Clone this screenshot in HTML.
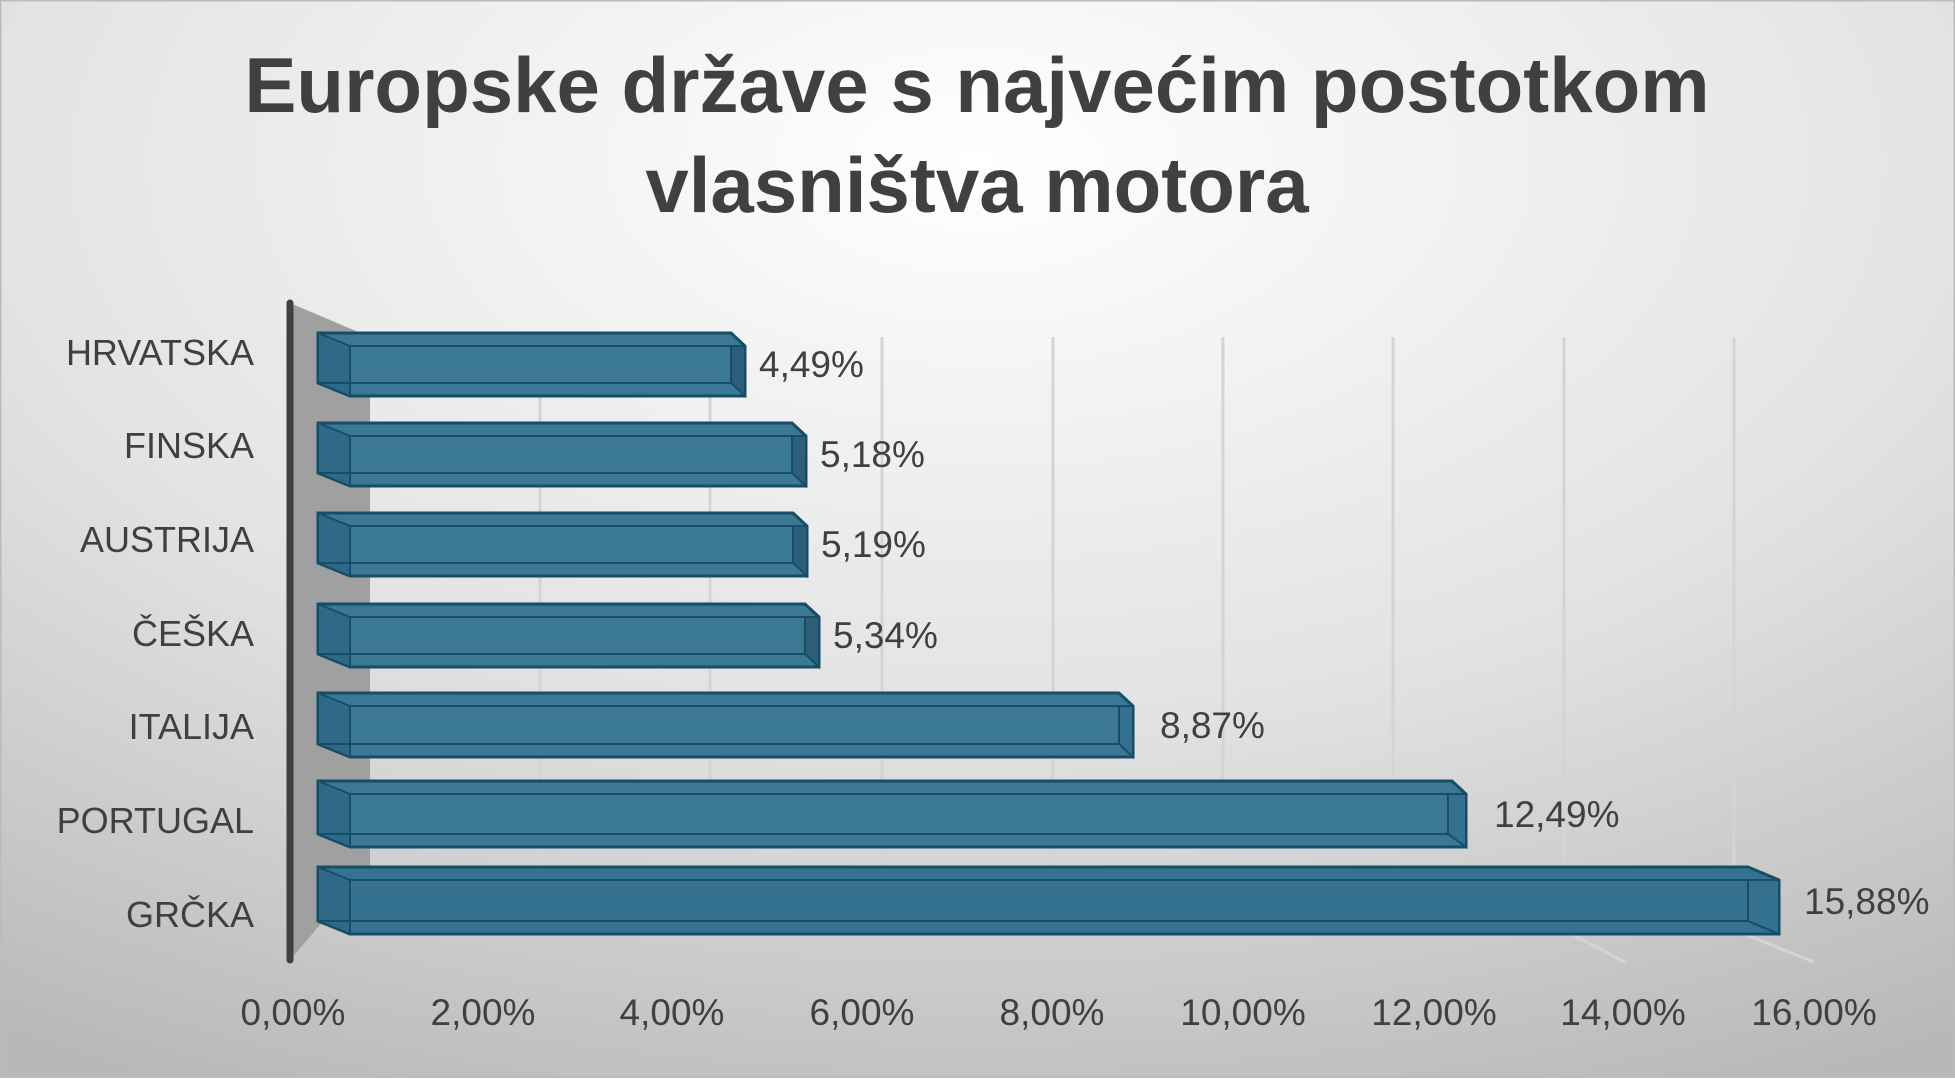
<!DOCTYPE html>
<html><head><meta charset="utf-8"><style>
html,body{margin:0;padding:0}
body{width:1955px;height:1078px;overflow:hidden;font-family:"Liberation Sans",sans-serif}
</style></head><body>
<svg width="1955" height="1078" viewBox="0 0 1955 1078" xmlns="http://www.w3.org/2000/svg">
<defs>
<radialGradient id="bg" cx="50%" cy="15%" r="95%">
<stop offset="0" stop-color="#ffffff"/><stop offset="0.55" stop-color="#e2e2e2"/><stop offset="1" stop-color="#b8b8b8"/>
</radialGradient>
</defs>
<rect x="0" y="0" width="1955" height="1078" fill="url(#bg)" stroke="#bbb" stroke-width="3"/>
<text x="977" y="112" text-anchor="middle" font-size="78" font-weight="bold" fill="#404040">Europske države s najvećim postotkom</text>
<text x="977" y="212" text-anchor="middle" font-size="78" font-weight="bold" fill="#404040">vlasništva motora</text>
<polygon points="290,303 370,337 370,866 290,960" fill="#a0a0a0"/>
<g stroke="#d4d4d4" stroke-width="3">
<line x1="540" y1="337" x2="540" y2="866"/>
<line x1="710" y1="337" x2="710" y2="866"/>
<line x1="882" y1="337" x2="882" y2="866"/>
<line x1="1053" y1="337" x2="1053" y2="866"/>
<line x1="1223" y1="337" x2="1223" y2="866"/>
<line x1="1393" y1="337" x2="1393" y2="866"/>
<line x1="1564" y1="337" x2="1564" y2="866"/>
<line x1="1734" y1="337" x2="1734" y2="866"/>
<line x1="1564" y1="930" x2="1625" y2="962"/>
<line x1="1734" y1="930" x2="1814" y2="962"/>
</g>
<line x1="290" y1="303" x2="290" y2="960" stroke="#404040" stroke-width="7" stroke-linecap="round"/>
<g stroke="#164e69" stroke-width="3">
<polygon points="318,333 731,333 745,346 745,396 350,396 318,383" fill="#3a7893"/>
<polygon points="318,333 350,346 350,396 318,383" fill="#2e6a87" stroke-width="2"/>
<polygon points="731,346 745,346 745,396 731,383" fill="#2c5f78" stroke-width="2"/>
<line x1="350" y1="346" x2="731" y2="346" stroke-width="2"/><line x1="318" y1="383" x2="731" y2="383" stroke-width="2"/>

<polygon points="318,423 792,423 806,436 806,486 350,486 318,473" fill="#3a7893"/>
<polygon points="318,423 350,436 350,486 318,473" fill="#2e6a87" stroke-width="2"/>
<polygon points="792,436 806,436 806,486 792,473" fill="#2c5f78" stroke-width="2"/>
<line x1="350" y1="436" x2="792" y2="436" stroke-width="2"/><line x1="318" y1="473" x2="792" y2="473" stroke-width="2"/>

<polygon points="318,513 793,513 807,526 807,576 350,576 318,563" fill="#3a7893"/>
<polygon points="318,513 350,526 350,576 318,563" fill="#2e6a87" stroke-width="2"/>
<polygon points="793,526 807,526 807,576 793,563" fill="#2c5f78" stroke-width="2"/>
<line x1="350" y1="526" x2="793" y2="526" stroke-width="2"/><line x1="318" y1="563" x2="793" y2="563" stroke-width="2"/>

<polygon points="318,604 805,604 819,617 819,667 350,667 318,654" fill="#3a7893"/>
<polygon points="318,604 350,617 350,667 318,654" fill="#2e6a87" stroke-width="2"/>
<polygon points="805,617 819,617 819,667 805,654" fill="#2c5f78" stroke-width="2"/>
<line x1="350" y1="617" x2="805" y2="617" stroke-width="2"/><line x1="318" y1="654" x2="805" y2="654" stroke-width="2"/>

<polygon points="318,693 1119,693 1133,706 1133,757 350,757 318,744" fill="#3a7893"/>
<polygon points="318,693 350,706 350,757 318,744" fill="#2e6a87" stroke-width="2"/>
<polygon points="1119,706 1133,706 1133,757 1119,744" fill="#33718e" stroke-width="2"/>
<line x1="350" y1="706" x2="1119" y2="706" stroke-width="2"/><line x1="318" y1="744" x2="1119" y2="744" stroke-width="2"/>

<polygon points="318,781 1452,781 1466,794 1466,847 350,847 318,834" fill="#3a7893"/>
<polygon points="318,781 350,794 350,847 318,834" fill="#2e6a87" stroke-width="2"/>
<polygon points="1448,794 1466,794 1466,847 1448,834" fill="#33718e" stroke-width="2"/>
<line x1="350" y1="794" x2="1448" y2="794" stroke-width="2"/><line x1="318" y1="834" x2="1448" y2="834" stroke-width="2"/>

<polygon points="318,867 1748,867 1779,880 1779,934 350,934 318,921" fill="#35728f"/>
<polygon points="318,867 350,880 350,934 318,921" fill="#2e6a87" stroke-width="2"/>
<polygon points="1748,880 1779,880 1779,934 1748,921" fill="#33718e" stroke-width="2"/>
<line x1="350" y1="880" x2="1748" y2="880" stroke-width="2"/><line x1="318" y1="921" x2="1748" y2="921" stroke-width="2"/>
</g>
<g font-size="37" fill="#404040">
<text x="759" y="377">4,49%</text>
<text x="820" y="467">5,18%</text>
<text x="821" y="557">5,19%</text>
<text x="833" y="648">5,34%</text>
<text x="1160" y="738">8,87%</text>
<text x="1494" y="827">12,49%</text>
<text x="1804" y="914">15,88%</text>
</g>
<g font-size="36" fill="#404040" text-anchor="end">
<text x="254" y="365">HRVATSKA</text>
<text x="254" y="458">FINSKA</text>
<text x="254" y="552">AUSTRIJA</text>
<text x="254" y="646">ČEŠKA</text>
<text x="254" y="739">ITALIJA</text>
<text x="254" y="833">PORTUGAL</text>
<text x="254" y="927">GRČKA</text>
</g>
<g font-size="37" fill="#404040" text-anchor="middle">
<text x="293" y="1025">0,00%</text>
<text x="483" y="1025">2,00%</text>
<text x="672" y="1025">4,00%</text>
<text x="862" y="1025">6,00%</text>
<text x="1052" y="1025">8,00%</text>
<text x="1243" y="1025">10,00%</text>
<text x="1434" y="1025">12,00%</text>
<text x="1623" y="1025">14,00%</text>
<text x="1814" y="1025">16,00%</text>
</g>
</svg>
</body></html>
